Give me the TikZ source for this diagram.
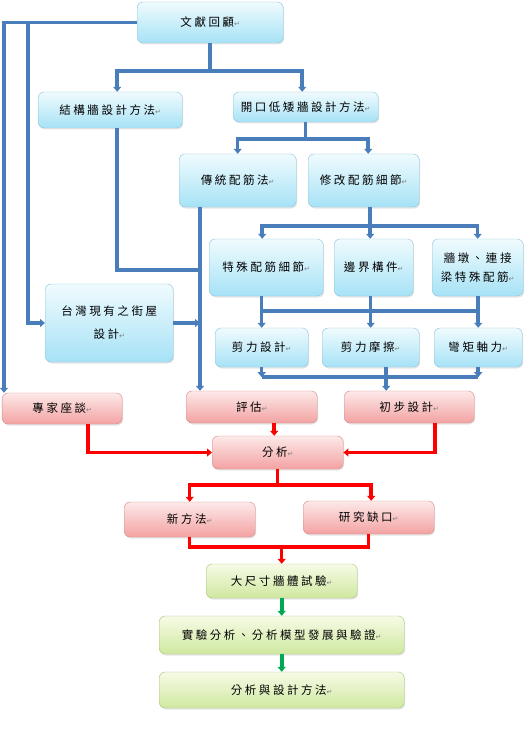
\documentclass[tikz,border=0pt]{standalone}
\usepackage{fontspec}
\usepackage{tikz}
\usetikzlibrary{arrows.meta,shadows}

\newfontfamily\cjk[LetterSpace=22]{Noto Sans CJK TC}
\newfontfamily\markfont{DejaVu Sans}
\newcommand{\retmark}{{\markfont\fontsize{7}{7}\selectfont\color{gray}↵}}

\definecolor{bluetop}{HTML}{F0FBFE}
\definecolor{bluebot}{HTML}{A6E2F6}
\definecolor{blueedge}{HTML}{8EC5DD}
\definecolor{blueline}{HTML}{4A7EBB}
\definecolor{redtop}{HTML}{FDE9E9}
\definecolor{redbot}{HTML}{F3A2A2}
\definecolor{rededge}{HTML}{D98A8A}
\definecolor{greentop}{HTML}{F6FBE6}
\definecolor{greenbot}{HTML}{CFE8A0}
\definecolor{greenedge}{HTML}{A8C87A}
\definecolor{greenline}{HTML}{00A850}

\begin{document}
\begin{tikzpicture}[x=1pt,y=-1pt,
		box/.style={rounded corners=6pt, inner sep=0pt, align=center,
			font=\cjk\fontsize{11.5}{19}\selectfont,
			drop shadow={opacity=0.2, shadow xshift=1pt, shadow yshift=-1.5pt}},
		bluebox/.style={box, draw=blueedge, top color=bluetop, bottom color=bluebot},
		redbox/.style={box, draw=rededge, top color=redtop, bottom color=redbot},
		grnbox/.style={box, draw=greenedge, top color=greentop, bottom color=greenbot},
		bluebus/.style={draw=blueline, line width=3.5pt},
		bluearrow/.style={bluebus, -{Triangle[width=8pt,length=5pt]}},
		redbus/.style={draw=red, line width=3.5pt},
		redarrow/.style={redbus, -{Triangle[width=8pt,length=5pt]}},
		grnarrow/.style={draw=greenline, line width=4pt, -{Triangle[width=8pt,length=5pt]}},
		]
		\fill[white] (0,0) rectangle (531,738);
		
		%Nodes
		\node[bluebox, minimum width=146pt, minimum height=41pt] (lit)    at (210,22.5)   {文獻回顧\retmark};
		\node[bluebox, minimum width=144pt, minimum height=36pt] (wall)   at (110,110)    {結構牆設計方法\retmark};
		\node[bluebox, minimum width=145pt, minimum height=30pt] (open)   at (305.5,107)  {開口低矮牆設計方法\retmark};
		\node[bluebox, minimum width=117pt, minimum height=53pt] (trad)   at (237.5,180.5) {傳統配筋法\retmark};
		\node[bluebox, minimum width=111pt, minimum height=53pt] (mod)    at (363.5,180.5) {修改配筋細節\retmark};
		\node[bluebox, minimum width=114pt, minimum height=57pt] (spec)   at (266,267.5)  {特殊配筋細節\retmark};
		\node[bluebox, minimum width=79pt,  minimum height=57pt] (bound)  at (373.5,267.5) {邊界構件\retmark};
		\node[bluebox, minimum width=91pt,  minimum height=57pt] (pier)   at (477.5,267.5) {牆墩、連接\\梁特殊配筋\retmark};
		\node[bluebox, minimum width=93pt,  minimum height=39pt] (shear)  at (261.5,347.5) {剪力設計\retmark};
		\node[bluebox, minimum width=97pt,  minimum height=39pt] (fric)   at (370.5,347.5) {剪力摩擦\retmark};
		\node[bluebox, minimum width=88pt,  minimum height=39pt] (moment) at (478,347.5)  {彎矩軸力\retmark};
		\node[bluebox, minimum width=128pt, minimum height=78pt] (taiwan) at (109,323)    {台灣現有之街屋\\[4pt]設計\retmark};
		
		\node[redbox, minimum width=120pt, minimum height=31pt] (expert) at (62,408.5)   {專家座談\retmark};
		\node[redbox, minimum width=131pt, minimum height=32pt] (eval)   at (251.5,407)  {評估\retmark};
		\node[redbox, minimum width=130pt, minimum height=32pt] (prelim) at (409,407)    {初步設計\retmark};
		\node[redbox, minimum width=131pt, minimum height=33pt] (anal)   at (277.5,452.5) {分析\retmark};
		\node[redbox, minimum width=131pt, minimum height=35pt] (new)    at (189.5,519.5) {新方法\retmark};
		\node[redbox, minimum width=131pt, minimum height=33pt] (gap)    at (368.5,517.5) {研究缺口\retmark};
		
		\node[grnbox, minimum width=151pt, minimum height=34pt] (test)   at (281.5,581)  {大尺寸牆體試驗\retmark};
		\node[grnbox, minimum width=245pt, minimum height=38pt] (exp)    at (281.5,635)  {實驗分析、分析模型發展與驗證\retmark};
		\node[grnbox, minimum width=245pt, minimum height=36pt] (method) at (281.5,690)  {分析與設計方法\retmark};
		
		%Lines
		\coordinate (litbus) at ([xshift=-109pt]lit.west);
		\draw[bluearrow] (lit.west) -| ([xshift=2pt]expert.north west);
		\draw[bluearrow] (litbus) |- (taiwan.west);
		
		\draw[bluebus] (lit.south) -- ++(0,28) coordinate (b1);
		\draw[bluearrow] (b1) -| ([xshift=7pt]wall.north);
		\draw[bluearrow] (b1) -| ([xshift=-3.5pt]open.north);
		
		\draw[bluebus] (open.south) -- ++(0,17) coordinate (b2);
		\draw[bluearrow] (b2) -| (trad.north);
		\draw[bluearrow] (b2) -| ([xshift=4.5pt]mod.north);
		
		\coordinate (trunk) at ([xshift=21pt,yshift=-63pt]trad.south west);
		\draw[bluearrow] ([xshift=21pt]trad.south west) -- ([xshift=21pt]trad.south west |- eval.north);
		\draw[bluebus] ([xshift=7pt]wall.south) |- (trunk);
		\draw[bluearrow] (taiwan.east) -- (taiwan.east -| trunk);
		
		\draw[bluebus] ([xshift=6.5pt]mod.south) -- ++(0,19) coordinate (b3);
		\draw[bluearrow] (b3) -| ([xshift=-4pt]spec.north);
		\draw[bluearrow] (b3) -- ([xshift=-3.5pt]bound.north);
		\draw[bluearrow] (b3) -| (pier.north);
		
		\coordinate (bus4) at ([yshift=-15pt]spec.south);
		\draw[bluebus] (bus4 -| shear.north) -- (bus4 -| moment.north);
		\foreach \a/\b in {spec/shear, bound/fric, pier/moment}
		\draw[bluearrow] (\a.south -| \b.north) -- (\b.north);
		
		\coordinate (bus5) at ([yshift=-10pt]shear.south);
		\draw[bluebus] (bus5) -- (bus5 -| moment.south);
		\draw[bluearrow] (shear.south) -- (bus5);
		\draw[bluearrow] (moment.south) -- (bus5 -| moment.south);
		\draw[bluearrow] ([xshift=15.5pt]fric.south) -- ([xshift=15.5pt]fric.south |- prelim.north);
		
		\draw[redarrow] ([xshift=26pt]expert.south) |- (anal.west);
		\draw[redarrow] ([xshift=22.5pt]eval.south) -- ([xshift=22.5pt]eval.south |- anal.north);
		\draw[redarrow] ([xshift=26pt]prelim.south) |- (anal.east);
		
		\draw[redbus] (anal.south) -- ++(0,16) coordinate (r1);
		\draw[redarrow] (r1) -| (new.north);
		\draw[redarrow] (r1) -| ([xshift=2.5pt]gap.north);
		
		\coordinate (r2) at ([yshift=-10pt]new.south);
		\draw[redbus] (new.south) -- (r2) -| (gap.south);
		\draw[redarrow] (r2 -| test.north) -- (test.north);
		
		\draw[grnarrow] (test.south) -- (exp.north);
		\draw[grnarrow] (exp.south) -- (method.north);
\end{tikzpicture}
\end{document}
